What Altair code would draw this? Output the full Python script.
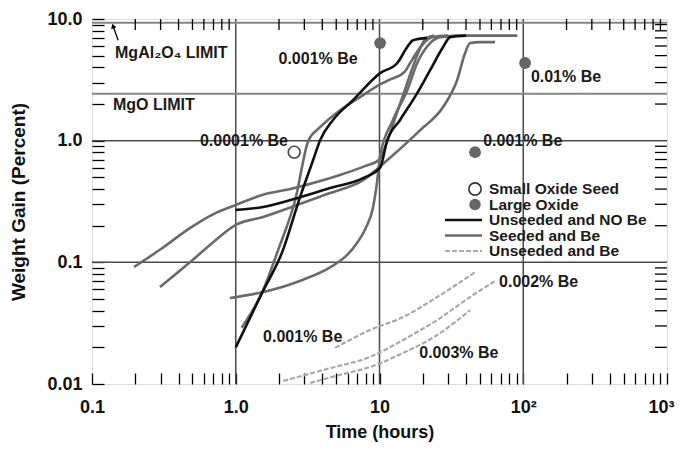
import altair as alt
import pandas as pd

FONT = "Liberation Sans"
W, H = 575, 365

# ---------------- data ----------------
# Unseeded and NO Be (black)
B1_X = [1.0, 1.55, 2.67, 4.53, 7.7, 10.1, 11.3, 13.9, 18.3, 22.5, 27.7, 31.0, 40.0]
B1_Y = [0.27, 0.285, 0.337, 0.408, 0.493, 0.6, 1.0, 1.48, 2.46, 3.8, 5.88, 7.1, 7.3]
B2_X = [1.0, 1.5, 2.13, 2.8, 3.45, 3.86, 4.75, 6.54, 10.1, 13.3, 15.6, 17.1, 21.4]
B2_Y = [0.02, 0.054, 0.126, 0.344, 0.69, 1.01, 1.48, 2.15, 3.59, 4.35, 5.88, 6.7, 7.0]

# Seeded and Be (grey)
G1_X = [0.196, 0.3, 0.48, 0.7, 1.0, 1.55, 2.4, 3.5, 5.5, 8.0, 10.0, 11.0, 13.0, 15.0, 17.0, 19.0, 21.0, 24.0]
G1_Y = [0.0915, 0.128, 0.191, 0.249, 0.296, 0.36, 0.40, 0.45, 0.53, 0.62, 0.7, 0.9, 1.6, 2.6, 4.0, 5.6, 6.9, 7.3]
G2_X = [0.297, 0.48, 0.7, 1.0, 1.55, 2.67, 4.53, 7.7, 11.3, 19.2, 27.7, 34.7, 39.4, 42.7, 50.0, 63.7]
G2_Y = [0.0626, 0.1, 0.147, 0.203, 0.236, 0.296, 0.371, 0.474, 0.69, 1.22, 1.89, 3.15, 5.25, 6.34, 6.45, 6.46]
G3_X = [0.91, 1.55, 2.94, 4.53, 5.96, 7.0, 8.0, 9.0, 9.6, 10.1, 12.4, 15.6, 18.3, 22.5, 26.4, 40.0, 60.0, 91.0]
G3_Y = [0.051, 0.057, 0.072, 0.091, 0.115, 0.145, 0.19, 0.28, 0.45, 0.75, 1.48, 2.6, 4.35, 6.34, 7.1, 7.3, 7.3, 7.3]
G4_X = [1.1, 1.55, 1.97, 2.6, 3.2, 3.86, 5.32, 7.33, 10.1, 12.0, 15.0, 17.0, 20.0, 23.5, 30.0]
G4_Y = [0.029, 0.059, 0.126, 0.33, 1.0, 1.29, 1.78, 2.28, 2.9, 3.2, 3.7, 4.7, 6.2, 7.1, 7.3]

# Unseeded and Be (light grey dashed)
D1_X = [4.91, 8.6, 14.6, 25.2, 46.2]
D1_Y = [0.0198, 0.0278, 0.0355, 0.0519, 0.083]
D2_X = [2.14, 4.53, 8.6, 14.6, 25.2, 42.7, 63.7]
D2_Y = [0.0106, 0.0135, 0.0167, 0.023, 0.0336, 0.0519, 0.0702]
D3_X = [3.29, 5.32, 8.6, 14.6, 25.2, 42.7]
D3_Y = [0.0102, 0.0119, 0.0138, 0.018, 0.0253, 0.0405]

# Points
LARGE_X = [10.1, 103.0, 46.2]
LARGE_Y = [6.34, 4.35, 0.805]
SMALL_X = [2.55]
SMALL_Y = [0.805]

# Reference lines
GRID_X = [1.0, 10.0, 100.0]
GRID_Y = [0.1, 1.0]
LIMIT_Y = [2.43, 9.3]

# Annotations
ANN_TEXT = ["MgAl₂O₄ LIMIT", "MgO LIMIT", "0.001% Be", "0.01% Be", "0.0001% Be",
            "0.001% Be", "0.001% Be", "0.002% Be", "0.003% Be"]
ANN_X = [0.1446, 0.140, 3.74, 113.0, 2.31, 52.6, 1.55, 67.9, 18.9]
ANN_Y = [5.25, 1.96, 4.68, 3.33, 1.0, 1.0, 0.0243, 0.0689, 0.018]
ANN_ALIGN = ["left", "left", "center", "left", "right", "left", "left", "left", "left"]

ARROW_X = [0.152, 0.140]
ARROW_Y = [6.7, 8.75]

# Axis ticks / labels
X_TICK_VALUES = [0.1, 1.0, 10.0, 100.0, 1000.0]
X_TICK_LABELS = ["0.1", "1.0", "10", "10²", "10³"]
Y_TICK_VALUES = [0.01, 0.1, 1.0, 10.0]
Y_TICK_LABELS = ["0.01", "0.1", "1.0", "10.0"]
X_MINOR = [k * 10.0 ** e for e in range(-1, 3) for k in range(2, 10)]
Y_MINOR = [k * 10.0 ** e for e in range(-2, 1) for k in range(2, 10)]

LEGEND_LABELS = ["Small Oxide Seed", "Large Oxide", "Unseeded and NO Be",
                 "Seeded and Be", "Unseeded and Be"]

# ---------------- build ----------------
def label_expr(values, labels):
    expr = "''"
    for v, l in reversed(list(zip(values, labels))):
        expr = f"abs(log(datum.value) - log({v})) < 0.01 ? '{l}' : " + expr
    return expr

XMIN, XMAX, YMIN, YMAX = 0.1, 1000.0, 0.01, 10.0
xs = alt.Scale(type="log", domain=[XMIN, XMAX], nice=False)
ys = alt.Scale(type="log", domain=[YMIN, YMAX], nice=False)

TICK_PX_X, TICK_PX_Y = 11, 12  # inward tick lengths (bottom/top, left/right)

# bottom / left axes: moved inside by their tick length so that ticks point inward
x_axis = alt.Axis(values=sorted(X_TICK_VALUES + X_MINOR),
                  labelExpr=label_expr(X_TICK_VALUES, X_TICK_LABELS),
                  domain=False, ticks=True, tickSize=TICK_PX_X, tickColor="black", tickWidth=1.3,
                  offset=-TICK_PX_X, grid=False, labelFlush=False,
                  labelOverlap=False, labelFont=FONT, labelFontSize=18, labelFontWeight="bold",
                  labelColor="#111", labelPadding=14,
                  labelOffset={"condition": {"test": f"datum.value > {XMAX / 2}", "value": -6},
                               "value": 0},
                  title="Time (hours)", titleFont=FONT,
                  titleFontSize=18, titleFontWeight="bold", titleColor="#111",
                  titleX=W / 2, titleY=48 + TICK_PX_X, titleBaseline="middle", titleAlign="center")
y_axis = alt.Axis(values=sorted(Y_TICK_VALUES + Y_MINOR),
                  labelExpr=label_expr(Y_TICK_VALUES, Y_TICK_LABELS),
                  domain=False, ticks=True, tickSize=TICK_PX_Y, tickColor="black", tickWidth=1.3,
                  offset=-TICK_PX_Y, grid=False, labelFlush=False,
                  labelOverlap=False, labelFont=FONT, labelFontSize=18, labelFontWeight="bold",
                  labelColor="#111", labelPadding=10, title="Weight Gain (Percent)",
                  titleFont=FONT, titleFontSize=19, titleFontWeight="bold", titleColor="#111",
                  titleX=-74 - TICK_PX_Y, titleY=H / 2, titleBaseline="middle", titleAlign="center",
                  titleAngle=270)

def X(field="x"):
    return alt.X(f"{field}:Q", scale=xs, axis=x_axis)

def Y(field="y"):
    return alt.Y(f"{field}:Q", scale=ys, axis=y_axis)

def series_df(named):
    rows = []
    for name, (xv, yv) in named.items():
        for i, (a, b) in enumerate(zip(xv, yv)):
            rows.append({"s": name, "x": a, "y": b, "o": i})
    return pd.DataFrame(rows)

black_df = series_df({"B1": (B1_X, B1_Y), "B2": (B2_X, B2_Y)})
gray_df = series_df({"G1": (G1_X, G1_Y), "G2": (G2_X, G2_Y), "G3": (G3_X, G3_Y), "G4": (G4_X, G4_Y)})
dash_df = series_df({"D1": (D1_X, D1_Y), "D2": (D2_X, D2_Y), "D3": (D3_X, D3_Y)})

BLACK, GRAY, LIGHT = "#111111", "#6a6a6a", "#a9a9a9"

grid_v = alt.Chart(pd.DataFrame({"x": GRID_X})).mark_rule(color="#4a4a4a", strokeWidth=1.5).encode(x=X())
grid_h = alt.Chart(pd.DataFrame({"y": GRID_Y})).mark_rule(color="#4a4a4a", strokeWidth=1.5).encode(y=Y())
limits = alt.Chart(pd.DataFrame({"y": LIMIT_Y})).mark_rule(color="#858585", strokeWidth=2).encode(y=Y())

# inward minor ticks on top and right edges (tick length in px converted to log units)
ty = 10 ** (TICK_PX_X * 3 / H)
tx = 10 ** (TICK_PX_Y * 4 / W)
EDGE = 1.002
tick_rows = []
for v in X_MINOR:
    tick_rows.append({"x": v, "x2": v, "y": YMAX / ty, "y2": YMAX / EDGE})
for v in Y_MINOR:
    tick_rows.append({"x": XMAX / tx, "x2": XMAX / EDGE, "y": v, "y2": v})
ticks = alt.Chart(pd.DataFrame(tick_rows)).mark_rule(color="black", strokeWidth=1.3).encode(
    x=X(), x2="x2:Q", y=Y(), y2="y2:Q")

def lines(df, color, width, dash=None):
    kw = dict(color=color, strokeWidth=width, interpolate="monotone", clip=True)
    if dash:
        kw["strokeDash"] = dash
    return alt.Chart(df).mark_line(**kw).encode(x=X(), y=Y(), detail="s:N", order="o:Q")

dashed = lines(dash_df, LIGHT, 2.2, [5, 2])
gray = lines(gray_df, GRAY, 2.6)
black = lines(black_df, BLACK, 2.6)

large = alt.Chart(pd.DataFrame({"x": LARGE_X, "y": LARGE_Y})).mark_point(
    filled=True, shape="circle", size=140, color="#666666", opacity=1).encode(x=X(), y=Y())
small = alt.Chart(pd.DataFrame({"x": SMALL_X, "y": SMALL_Y})).mark_point(
    filled=True, shape="circle", size=140, fill="white", stroke="#444444", strokeWidth=1.6,
    opacity=1).encode(x=X(), y=Y())

ann = pd.DataFrame({"t": ANN_TEXT, "x": ANN_X, "y": ANN_Y, "a": ANN_ALIGN})
ann_layers = []
for al in ["left", "center", "right"]:
    ann_layers.append(
        alt.Chart(ann[ann["a"] == al]).mark_text(
            align=al, baseline="middle", font=FONT, fontSize=16, fontWeight="bold", color="#1a1a1a"
        ).encode(x=X(), y=Y(), text="t:N"))

arrow_line = alt.Chart(pd.DataFrame({"x": ARROW_X, "y": ARROW_Y, "o": [0, 1]})).mark_line(
    color="black", strokeWidth=1.3).encode(x=X(), y=Y(), order="o:Q")
arrow_head = alt.Chart(pd.DataFrame({"x": [ARROW_X[1]], "y": [ARROW_Y[1]]})).mark_point(
    shape="triangle-up", filled=True, size=30, color="black", angle=340, opacity=1).encode(x=X(), y=Y())

# legend (drawn)
LEG_TX, LEG_SX, LEG_L0, LEG_L1, LEG_TOP, LEG_STEP = 397, 383, 353, 390, 170, 15.5
one = alt.Data(values=[{}])
leg = []
for i, lab in enumerate(LEGEND_LABELS):
    leg.append(alt.Chart(one).mark_text(
        text=lab, align="left", baseline="middle", font=FONT, fontSize=15.5, fontWeight="bold",
        color="#1a1a1a").encode(x=alt.value(LEG_TX), y=alt.value(LEG_TOP + i * LEG_STEP)))
leg.append(alt.Chart(one).mark_point(filled=True, shape="circle", size=150, fill="white",
                                     stroke="#333", strokeWidth=1.6, opacity=1).encode(
    x=alt.value(LEG_SX), y=alt.value(LEG_TOP)))
leg.append(alt.Chart(one).mark_point(filled=True, shape="circle", size=130, color="#666",
                                     opacity=1).encode(
    x=alt.value(LEG_SX), y=alt.value(LEG_TOP + LEG_STEP)))
for i, (c, d) in enumerate([(BLACK, None), (GRAY, None), (LIGHT, [5, 2])]):
    kw = dict(color=c, strokeWidth=2.6 if d is None else 2.2)
    if d:
        kw["strokeDash"] = d
    leg.append(alt.Chart(one).mark_rule(**kw).encode(
        x=alt.value(LEG_L0), x2=alt.value(LEG_L1),
        y=alt.value(LEG_TOP + (2 + i) * LEG_STEP)))

chart = alt.layer(
    grid_v, grid_h, limits, ticks,
    dashed, gray, black, large, small, *ann_layers, arrow_line, arrow_head, *leg
).properties(
    width=W, height=H,
    autosize=alt.AutoSizeParams(type="none"),
    padding={"left": 84, "top": 11, "right": 8, "bottom": 59},
).configure_view(stroke="black", strokeWidth=2.2).configure(background="white")

chart.save("out.html", embed_options={"renderer": "svg", "actions": False})
